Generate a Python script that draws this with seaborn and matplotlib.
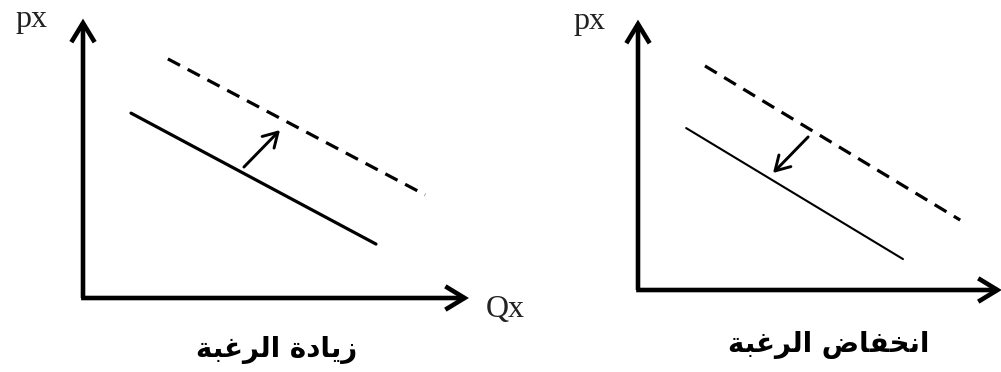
import matplotlib
matplotlib.use('Agg')
import matplotlib.pyplot as plt
import seaborn as sns

# Data: two demand curves per panel (before / after), plus shift arrows
left_base_q = [1.25, 7.63]
left_base_p = [6.65, 1.94]
left_new_q = [2.21, 8.91]
left_new_p = [8.60, 3.71]
left_arrow_from = (4.19, 4.71)
left_arrow_to = (5.13, 6.04)

right_base_q = [1.33, 7.32]
right_base_p = [6.02, 1.15]
right_new_q = [1.85, 8.90]
right_new_p = [8.33, 2.60]
right_arrow_from = (4.70, 5.69)
right_arrow_to = (3.73, 4.35)

y_label = 'px'
x_label = 'Qx'
captions = ['زيادة الرغبة', 'انخفاض الرغبة']

# Minimal Arabic shaping (matplotlib has no bidi/shaping)
FORMS = {
    'ا': ('\ufe8d', '\ufe8e'), 'د': ('\ufea9', '\ufeaa'), 'ر': ('\ufead', '\ufeae'),
    'ز': ('\ufeaf', '\ufeb0'), 'ة': ('\ufe93', '\ufe94'),
    'ن': ('\ufee5', '\ufee6', '\ufee7', '\ufee8'), 'خ': ('\ufea5', '\ufea6', '\ufea7', '\ufea8'),
    'ف': ('\ufed1', '\ufed2', '\ufed3', '\ufed4'), 'ض': ('\ufebd', '\ufebe', '\ufebf', '\ufec0'),
    'ي': ('\ufef1', '\ufef2', '\ufef3', '\ufef4'), 'ل': ('\ufedd', '\ufede', '\ufedf', '\ufee0'),
    'غ': ('\ufecd', '\ufece', '\ufecf', '\ufed0'), 'ب': ('\ufe8f', '\ufe90', '\ufe91', '\ufe92'),
}


def shape(text):
    out = []
    for i, ch in enumerate(text):
        if ch not in FORMS:
            out.append(ch)
            continue
        f = FORMS[ch]
        prev = text[i - 1] if i > 0 else ''
        nxt = text[i + 1] if i + 1 < len(text) else ''
        pj = prev in FORMS and len(FORMS[prev]) == 4
        nj = nxt in FORMS and len(f) == 4
        if pj and nj:
            out.append(f[3])
        elif pj:
            out.append(f[1])
        elif nj:
            out.append(f[2])
        else:
            out.append(f[0])
    return ''.join(out)[::-1]


sns.set_theme(style='white')
plt.rcParams['font.family'] = ['DejaVu Sans']

fig = plt.figure(figsize=(10.01, 3.72), dpi=100)
W, H = 1001, 372
# axes placed so that the origin sits where the arrows start
ax1 = fig.add_axes([83 / W, (H - 298) / H, 384 / W, 278 / H])
ax2 = fig.add_axes([638 / W, (H - 290) / H, 362 / W, 269 / H])

panels = [
    (ax1, left_base_q, left_base_p, left_new_q, left_new_p, left_arrow_from, left_arrow_to, 2.3, True),
    (ax2, right_base_q, right_base_p, right_new_q, right_new_p, right_arrow_from, right_arrow_to, 1.5, False),
]

for i, (ax, bq, bp, nq, np_, a0, a1, lw, show_q) in enumerate(panels):
    ax.set_xlim(0, 10)
    ax.set_ylim(0, 10)
    ax.axis('off')
    sns.lineplot(x=bq, y=bp, ax=ax, color='black', lw=lw, clip_on=False)
    sns.lineplot(x=nq, y=np_, ax=ax, color='black', lw=2.3, dashes=False,
                 linestyle=(0, (4.3, 2.7)), clip_on=False)
    ax.annotate('', xy=a1, xytext=a0,
                arrowprops=dict(arrowstyle='->,head_length=0.85,head_width=0.5',
                                color='black', lw=2.1, shrinkA=0, shrinkB=0))
    # coordinate axes with open arrowheads
    ax.annotate('', xy=(10.05, 0), xytext=(-0.05, 0), annotation_clip=False,
                arrowprops=dict(arrowstyle='->,head_length=1.15,head_width=0.7',
                                color='black', lw=3.3, shrinkA=0, shrinkB=0,
                                capstyle='butt', joinstyle='miter'))
    ax.annotate('', xy=(0, 10.05), xytext=(0, 0), annotation_clip=False,
                arrowprops=dict(arrowstyle='->,head_length=1.15,head_width=0.7',
                                color='black', lw=3.3, shrinkA=0, shrinkB=0,
                                capstyle='butt', joinstyle='miter'))
    ax.text(-1.35, 10.0, y_label, family='Liberation Serif', fontsize=23,
            ha='center', va='center', color='#222222')
    if show_q:
        ax.text(11.0, -0.43, x_label, family='Liberation Serif', fontsize=23,
                ha='center', va='center', color='#222222')

ax1.text(5.05, -1.87, shape(captions[0]), fontsize=20, fontweight='bold',
         ha='center', va='center', color='black')
ax2.text(5.28, -2.04, shape(captions[1]), fontsize=20, fontweight='bold',
         ha='center', va='center', color='black')

fig.savefig('out.png', dpi=100)
